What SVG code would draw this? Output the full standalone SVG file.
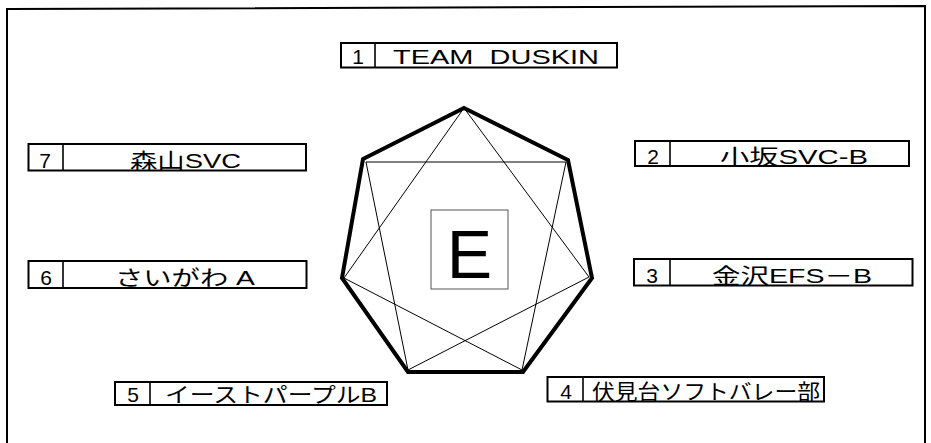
<svg xmlns="http://www.w3.org/2000/svg" width="931" height="443" viewBox="0 0 931 443">
<style>
.bg{fill:#fff}
.frame{fill:none;stroke:#000;stroke-width:2}
.box{fill:#fff;stroke:#000;stroke-width:2}
.div{stroke:#000;stroke-width:1.6}
.num{font-family:"Liberation Sans","Noto Sans CJK JP",sans-serif;font-size:21px;fill:#000;text-anchor:middle}
.lbl{font-family:"Liberation Sans","Noto Sans CJK JP",sans-serif;font-size:21px;fill:#000}
.hept{fill:none;stroke:#000;stroke-width:4;stroke-linejoin:miter}
.star{fill:none;stroke:#000;stroke-width:1}
.ebox{fill:none;stroke:#555;stroke-width:1}
.big{font-family:"Liberation Sans",sans-serif;font-size:68px;fill:#000;text-anchor:middle}
</style>
<rect class="bg" x="0" y="0" width="931" height="443"/>
<path class="frame" d="M7,443 L7,9 L925,6 L925,443"/>

<g id="connectors">
  <polygon class="hept" points="464,108 568,160 592,278 523,372 408,372 342,278 363,159"/>
  <polygon class="star" points="464,108 344,278 522,370 566,162 366,162 408,370 589,277"/>
</g>

<g id="center">
  <rect class="ebox" x="431" y="210" width="77" height="79"/>
  <text class="big" x="469.5" y="278">E</text>
</g>

<g id="team1">
  <rect class="box" x="341" y="43" width="276" height="24.5"/>
  <line class="div" x1="375" y1="43" x2="375" y2="67.5"/>
  <text class="num" x="358" y="63.5">1</text>
  <text class="lbl" x="393" y="63.5" font-size="22" textLength="206" lengthAdjust="spacingAndGlyphs" xml:space="preserve">TEAM  DUSKIN</text>
</g>

<g id="team2">
  <rect class="box" x="635" y="141" width="274" height="25"/>
  <line class="div" x1="670" y1="141" x2="670" y2="166"/>
  <text class="num" x="653" y="163.5">2</text>
  <text class="lbl" x="720" y="163.5" textLength="148" lengthAdjust="spacingAndGlyphs">小坂SVC-B</text>
</g>

<g id="team3">
  <rect class="box" x="634" y="259" width="278.5" height="26.5"/>
  <line class="div" x1="670" y1="259" x2="670" y2="285.5"/>
  <text class="num" x="652" y="282.5">3</text>
  <text class="lbl" x="712" y="282.5" textLength="160" lengthAdjust="spacingAndGlyphs">金沢EFS－B</text>
</g>

<g id="team4">
  <rect class="box" x="547.5" y="377" width="276.5" height="24.5"/>
  <line class="div" x1="583" y1="377" x2="583" y2="401.5"/>
  <text class="num" x="566" y="398.5">4</text>
  <text class="lbl" x="592" y="398.5" textLength="228" lengthAdjust="spacingAndGlyphs">伏見台ソフトバレー部</text>
</g>

<g id="team5">
  <rect class="box" x="115" y="382" width="272" height="23"/>
  <line class="div" x1="150" y1="382" x2="150" y2="405"/>
  <text class="num" x="133" y="402">5</text>
  <text class="lbl" x="165" y="402" textLength="212" lengthAdjust="spacingAndGlyphs">イーストパープルB</text>
</g>

<g id="team6">
  <rect class="box" x="28.5" y="261" width="278" height="27"/>
  <line class="div" x1="63" y1="261" x2="63" y2="288"/>
  <text class="num" x="46" y="285">6</text>
  <text class="lbl" x="115" y="285" textLength="140" lengthAdjust="spacingAndGlyphs" xml:space="preserve">さいがわ A</text>
</g>

<g id="team7">
  <rect class="box" x="28.5" y="144" width="277.5" height="26.5"/>
  <line class="div" x1="63" y1="144" x2="63" y2="170.5"/>
  <text class="num" x="45" y="167.5">7</text>
  <text class="lbl" x="130" y="167.5" textLength="111" lengthAdjust="spacingAndGlyphs">森山SVC</text>
</g>
</svg>
